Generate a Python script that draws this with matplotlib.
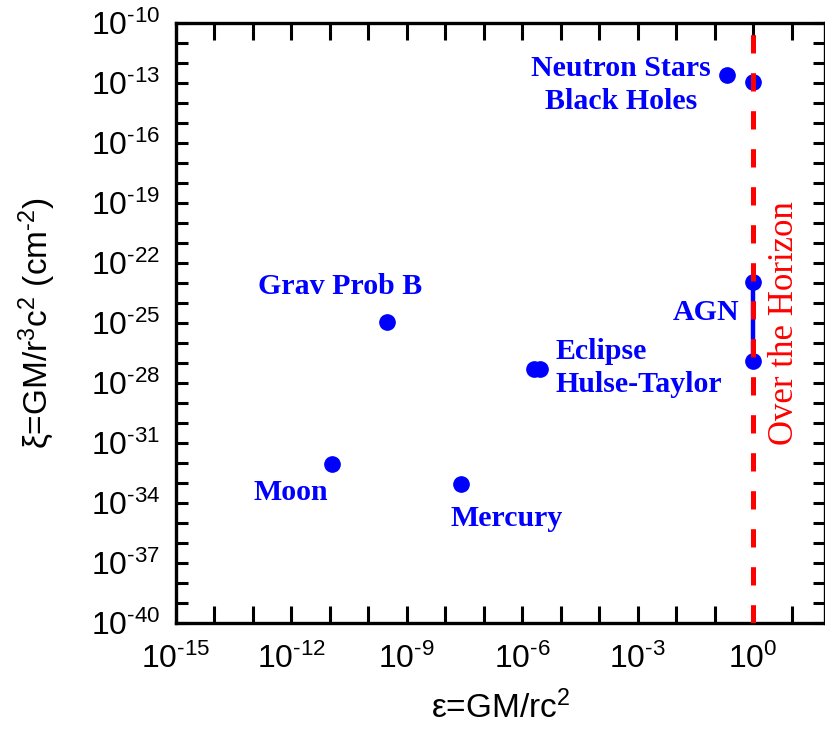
import matplotlib.pyplot as plt

plt.rcParams['font.family'] = 'Liberation Sans'
plt.rcParams['mathtext.fontset'] = 'custom'
plt.rcParams['mathtext.rm'] = 'Liberation Sans'
plt.rcParams['mathtext.it'] = 'Liberation Sans:italic'
plt.rcParams['mathtext.default'] = 'regular'

# log10 values
log_eps = [-10.93, -7.59, -9.52, -5.69, -5.55, -0.67, 0.0]
log_xi = [-32.07, -33.08, -24.98, -27.33, -27.33, -12.6, -12.95]

agn_log_eps = [0.0, 0.0]
agn_log_xi = [-22.95, -26.9]

x_decades = list(range(-15, 2))
y_decades = list(range(-40, -9))

blue = '#0000ff'
red = '#ff0000'


def dec_label(k):
    # hyphen instead of the long math minus, as in the original
    if k < 0:
        return r'$10^{\text{-}%d}$' % (-k)
    return r'$10^{%d}$' % k


fig = plt.figure(figsize=(8.25, 7.29), dpi=100)
ax = fig.add_axes([0.213, 0.1458, 0.787, 0.8231])
ax.set_xscale('log')
ax.set_yscale('log')

eps = [10.0 ** v for v in log_eps]
xi = [10.0 ** v for v in log_xi]
ax.plot(eps, xi, 'o', color=blue, ms=11, mec=blue, zorder=3)
ax.plot([10.0 ** v for v in agn_log_eps], [10.0 ** v for v in agn_log_xi],
        '-o', color=blue, lw=3.2, ms=11, zorder=3)

# event horizon line
ax.axvline(1.0, color=red, lw=3.6, dashes=(3.66, 3.94), zorder=4)

ax.set_xlim(1e-15, 10 ** 1.865)
ax.set_ylim(1e-40, 1e-10)

ax.set_xticks([10.0 ** k for k in x_decades])
ax.set_xticklabels([dec_label(k) if k % 3 == 0 else '' for k in x_decades])
ax.set_yticks([10.0 ** k for k in y_decades])
ax.set_yticklabels([dec_label(k) if k % 3 == 2 else '' for k in y_decades])
ax.minorticks_off()

ax.tick_params(axis='both', which='major', direction='in', top=True, right=True,
               width=2.2, labelsize=23)
ax.tick_params(axis='x', length=12, pad=15)
ax.tick_params(axis='y', length=8.6, pad=11)
for s in ax.spines.values():
    s.set_linewidth(2.4)

ax.set_xlabel(r'ε=GM/rc$^2$', fontsize=24, labelpad=11)
ax.set_ylabel(r'ξ=GM/r$^{3}$c$^2$ (cm$^{\text{-}2}$)', fontsize=24, labelpad=24)

lab = dict(color=blue, fontsize=21.5, fontweight='bold', family='Liberation Serif')
ax.text(10 ** -3.43, 10 ** -13.1, 'Neutron Stars\nBlack Holes', ha='center', va='center',
        multialignment='center', linespacing=1.3, **lab)
ax.text(10 ** -10.72, 10 ** -23.17, 'Grav Prob B', ha='center', va='center', **lab)
ax.text(10 ** -0.37, 10 ** -24.5, 'AGN', ha='right', va='center', **lab)
ax.text(10 ** -5.14, 10 ** -27.27, 'Eclipse\nHulse-Taylor', ha='left', va='center',
        linespacing=1.3, **lab)
ax.text(10 ** -12.01, 10 ** -33.47, 'Moon', ha='center', va='center', **lab)
ax.text(10 ** -6.41, 10 ** -34.77, 'Mercury', ha='center', va='center', **lab)
ax.text(10 ** 0.82, 10 ** -25.0, 'Over the Horizon', rotation=90, ha='center', va='center',
        color=red, fontsize=25, family='Liberation Serif')

fig.savefig('out.png', dpi=100)
